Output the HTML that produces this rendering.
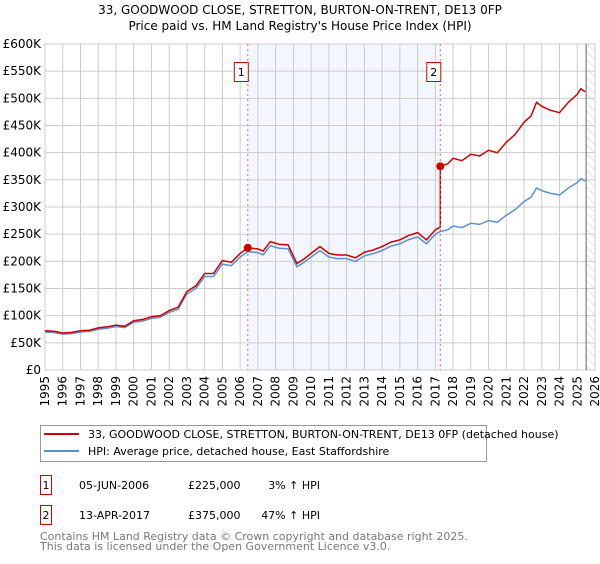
<!DOCTYPE html>
<html><head><meta charset="utf-8"><style>
body{margin:0;background:#fff;font-family:"DejaVu Sans","Liberation Sans",sans-serif;}
svg text{font-family:"DejaVu Sans","Liberation Sans",sans-serif;}
</style></head><body>
<svg id="chart" width="600" height="560" xmlns="http://www.w3.org/2000/svg">
<defs><pattern id="hatch" width="6" height="6" patternUnits="userSpaceOnUse" patternTransform="rotate(-45)"><line x1="0" y1="0" x2="0" y2="6" stroke="#ccc" stroke-width="1"/></pattern></defs>
<text x="300" y="14" text-anchor="middle" font-size="12">33, GOODWOOD CLOSE, STRETTON, BURTON-ON-TRENT, DE13 0FP</text>
<text x="300" y="30" text-anchor="middle" font-size="12">Price paid vs. HM Land Registry's House Price Index (HPI)</text>
<g id="grid"></g><g id="marks"></g><g id="axes"></g>
<g>
<rect x="40.5" y="425.5" width="446" height="36" fill="#fff" stroke="#999"/>
<line x1="44" y1="434" x2="79" y2="434" stroke="#cc0000" stroke-width="2"/>
<text x="88" y="438" font-size="11">33, GOODWOOD CLOSE, STRETTON, BURTON-ON-TRENT, DE13 0FP (detached house)</text>
<line x1="44" y1="451" x2="79" y2="451" stroke="#5b8fd0" stroke-width="2"/>
<text x="88" y="455" font-size="11">HPI: Average price, detached house, East Staffordshire</text>
</g>
<g font-size="11">
<rect x="40.5" y="475.5" width="11" height="19" fill="#fff" stroke="#cc0000"/><text x="46" y="489" text-anchor="middle">1</text>
<text x="79" y="489">05-JUN-2006</text><text x="188" y="489">£225,000</text><text x="320" y="489" text-anchor="end">3% ↑ HPI</text>
<rect x="40.5" y="505.5" width="11" height="19" fill="#fff" stroke="#cc0000"/><text x="46" y="519" text-anchor="middle">2</text>
<text x="79" y="519">13-APR-2017</text><text x="188" y="519">£375,000</text><text x="320" y="519" text-anchor="end">47% ↑ HPI</text>
</g>
<text x="40" y="540" font-size="11" fill="#777">Contains HM Land Registry data © Crown copyright and database right 2025.</text>
<text x="40" y="550" font-size="11" fill="#777">This data is licensed under the Open Government Licence v3.0.</text>
</svg>
<script>
const hpiYears=[1995,1995.5,1996,1996.5,1997,1997.5,1998,1998.5,1999,1999.5,2000,2000.5,2001,2001.5,2002,2002.5,2003,2003.5,2004,2004.5,2005,2005.5,2006,2006.43,2007,2007.3,2007.7,2008.2,2008.7,2009.2,2009.6,2010,2010.5,2011,2011.5,2012,2012.5,2013,2013.5,2014,2014.5,2015,2015.5,2016,2016.5,2017,2017.28,2017.7,2018,2018.5,2019,2019.5,2020,2020.5,2021,2021.5,2022,2022.4,2022.7,2023,2023.5,2024,2024.5,2025,2025.2,2025.45];
const hpiValues=[70,69,66,67,70,71,75,77,80,78,88,90,95,97,106,112,140,150,172,172,195,192,208,218,216,212,229,224,223,190,198,208,220,208,205,205,200,210,214,220,228,232,240,245,232,250,255,258,265,262,270,268,275,272,285,295,310,318,335,330,325,322,335,345,352,348];
const saleDates=[2006.43,2017.28];
const salePrices=[225,375];
const saleLabels=["1","2"];
const yTicks=[0,50,100,150,200,250,300,350,400,450,500,550,600];
const yTickLabels=["£0","£50K","£100K","£150K","£200K","£250K","£300K","£350K","£400K","£450K","£500K","£550K","£600K"];
const xTicks=[1995,1996,1997,1998,1999,2000,2001,2002,2003,2004,2005,2006,2007,2008,2009,2010,2011,2012,2013,2014,2015,2016,2017,2018,2019,2020,2021,2022,2023,2024,2025,2026];
const NS="http://www.w3.org/2000/svg";
const X0=45,X1=595,Y0=370,Y1=44;
const xs=v=>X0+(v-1995)/(2026-1995)*(X1-X0);
const ys=v=>Y0-v/600*(Y0-Y1);
function mk(t,a,p){const e=document.createElementNS(NS,t);for(const k in a)e.setAttribute(k,a[k]);p.appendChild(e);return e;}
const grid=document.getElementById('grid'),marks=document.getElementById('marks'),axes=document.getElementById('axes');
let r=mk('rect',{x:xs(saleDates[0]),y:Y1,width:xs(saleDates[1])-xs(saleDates[0]),height:Y0-Y1,fill:'#eef3fc',opacity:0.7},grid);


let h=mk('rect',{x:xs(2025.5),y:Y1,width:X1-xs(2025.5),height:Y0-Y1,fill:'url(#hatch)'},grid);


yTicks.forEach((v,i)=>{
 mk('line',{x1:X0,x2:X1,y1:ys(v),y2:ys(v),stroke:'#ccc'},grid);
 const t=mk('text',{x:X0-4,y:ys(v)+4,'text-anchor':'end','font-size':12},axes);t.textContent=yTickLabels[i];
 
 
});
xTicks.forEach(v=>{
 mk('line',{x1:xs(v),x2:xs(v),y1:Y1,y2:Y0,stroke:'#ccc'},grid);
 const t=mk('text',{x:0,y:0,'text-anchor':'end','font-size':12,transform:`translate(${xs(v)+4},${Y0+6}) rotate(-90)`},axes);t.textContent=v;
 
 
});
mk('rect',{x:X0,y:Y1,width:X1-X0,height:Y0-Y1,fill:'none',stroke:'#ccc'},grid);
mk('line',{x1:xs(2025.5),x2:xs(2025.5),y1:Y1,y2:Y0,stroke:'#666'},grid);
function hpiAt(d){for(let i=1;i<hpiYears.length;i++){if(d<=hpiYears[i]){const f=(d-hpiYears[i-1])/(hpiYears[i]-hpiYears[i-1]);return hpiValues[i-1]+f*(hpiValues[i]-hpiValues[i-1]);}}return hpiValues[hpiValues.length-1];}
const bp=hpiYears.map((d,i)=>`${xs(d).toFixed(1)},${ys(hpiValues[i]).toFixed(1)}`).join(' ');
let bl=mk('polyline',{points:bp,fill:'none',stroke:'#5b8fd0','stroke-width':1.5},marks);


const r1=salePrices[0]/hpiAt(saleDates[0]),r2=salePrices[1]/hpiAt(saleDates[1]);
const pts=[];
hpiYears.forEach((d,i)=>{
 if(d<saleDates[1]){pts.push([d,hpiValues[i]*r1]);}
 else{ if(pts.length&&pts[pts.length-1][0]<saleDates[1]){pts.push([saleDates[1],hpiAt(saleDates[1])*r1]);pts.push([saleDates[1],salePrices[1]]);}
  pts.push([d,hpiValues[i]*r2]);}
});
let rl=mk('polyline',{points:pts.map(p=>`${xs(p[0]).toFixed(1)},${ys(p[1]).toFixed(1)}`).join(' '),fill:'none',stroke:'#cc0000','stroke-width':1.5},marks);


saleDates.forEach((d,i)=>{
 mk('line',{x1:xs(d),x2:xs(d),y1:Y1,y2:Y0,stroke:'#e06666','stroke-dasharray':'2,3'},marks);
 const c=mk('circle',{cx:xs(d),cy:ys(salePrices[i]),r:4,fill:'#cc0000'},marks);
 
 
 const b=mk('rect',{x:xs(d)-13.5,y:62.5,width:14,height:19,fill:'#fff',stroke:'#cc0000'},marks);
 
 
 const t=mk('text',{x:xs(d)-6.5,y:76,'text-anchor':'middle','font-size':11},marks);t.textContent=saleLabels[i];
});
</script>
</body></html>
